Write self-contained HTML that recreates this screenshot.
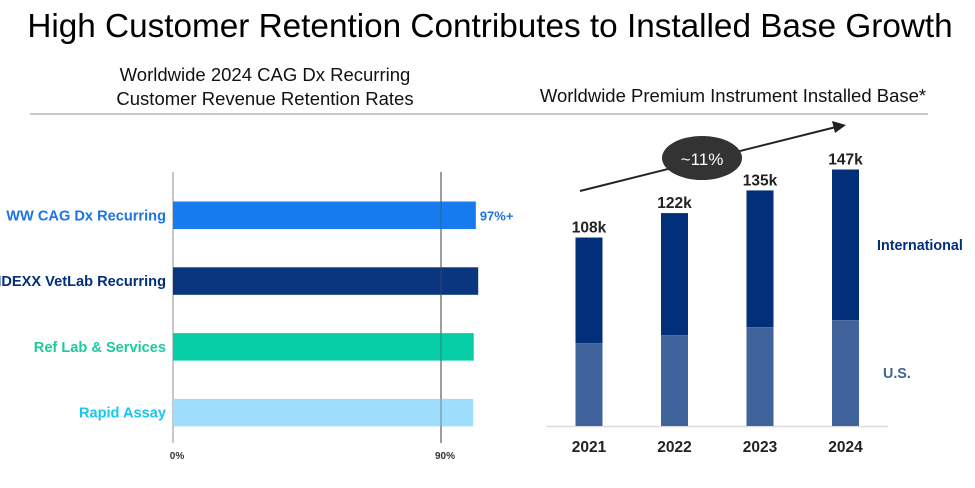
<!DOCTYPE html>
<html><head><meta charset="utf-8"><style>
body{margin:0;background:#fff;width:975px;height:483px;overflow:hidden;font-family:"Liberation Sans",Arial,sans-serif}
svg text{font-family:"Liberation Sans",Arial,sans-serif}
</style></head><body>
<svg id="s" width="975" height="483" viewBox="0 0 975 483">
<text x="490" y="37" text-anchor="middle" font-size="33.3" fill="#000">High Customer Retention Contributes to Installed Base Growth</text>
<text x="265" y="81" text-anchor="middle" font-size="18.5" fill="#111">Worldwide 2024 CAG Dx Recurring</text>
<text x="265" y="105" text-anchor="middle" font-size="18.5" fill="#111">Customer Revenue Retention Rates</text>
<text x="733" y="102" text-anchor="middle" font-size="18.5" fill="#111">Worldwide Premium Instrument Installed Base*</text>
<line x1="30" y1="114" x2="928" y2="114" stroke="#c8c8c8" stroke-width="2"/>
<g id="left"></g>
<g id="right"></g>
</svg>
<script>
const NS="http://www.w3.org/2000/svg";
function mk(tag,attrs,parent,txt){const e=document.createElementNS(NS,tag);for(const k in attrs)e.setAttribute(k,attrs[k]);if(txt!==undefined)e.textContent=txt;parent.appendChild(e);return e;}
// Left chart data
const retCategories=["WW CAG Dx Recurring","IDEXX VetLab Recurring","Ref Lab & Services","Rapid Assay"];
const retValues=[101.7,102.5,101.0,100.8];
const retColors=["#0d77ee","#012f7a","#00cca4","#9cdcfd"];
const retLabelColors=["#1a73e8","#012f7a","#1fc9a0","#18c6f0"];
const retTicks=[0,90];
const retValueLabels=["97%+","","",""];
// Right chart data
const years=["2021","2022","2023","2024"];
const usValues=[47.4,52,56.6,60.6];
const totalValues=[108,122,135,147];
const totalLabels=["108k","122k","135k","147k"];

const L=document.getElementById('left');
const xL=v=>173+v*(268/90);
const yBand=i=>201.5+i*65.8;
const bh=27.5;
retTicks.forEach(t=>{
  const ln=mk('line',{x1:xL(t),y1:172,x2:xL(t),y2:443,stroke:t===0?'#aaa':'#888','stroke-width':1.3},L);
  
  
  const tx=mk('text',{x:xL(t)+4,y:459,'text-anchor':'middle','font-size':10,'font-weight':'bold',fill:'#333'},L,t+'%');
  
  
});
retCategories.forEach((c,i)=>{
  const r=mk('rect',{x:xL(0),y:yBand(i),width:xL(retValues[i])-xL(0),height:bh,fill:retColors[i],'fill-opacity':0.97},L);
  
  
  const t=mk('text',{x:166,y:yBand(i)+bh/2+5,'text-anchor':'end','font-size':14.6,'font-weight':'bold',fill:retLabelColors[i]},L,c);
  
  
  if(retValueLabels[i]){
    const v=mk('text',{x:xL(retValues[i])+4,y:yBand(i)+bh/2+5,'font-size':13,'font-weight':'bold',fill:'#1a73e8'},L,retValueLabels[i]);
    
    
  }
});
const ov=mk('line',{x1:xL(90),y1:172,x2:xL(90),y2:443,stroke:'#555','stroke-opacity':0.5,'stroke-width':1.2},L);



const R=document.getElementById('right');
const y0=426, ks=1.745;
const yR=v=>y0-v*ks;
const xC=i=>589+i*85.5;
const bw=27;
const base=mk('line',{x1:546,y1:y0+0.5,x2:888,y2:y0+0.5,stroke:'#ddd','stroke-width':1.5},R);


years.forEach((yr,i)=>{
  const a=mk('rect',{x:xC(i)-bw/2,y:yR(totalValues[i]),width:bw,height:(totalValues[i]-usValues[i])*ks,fill:'#012f7a'},R);
  
  
  const b=mk('rect',{x:xC(i)-bw/2,y:yR(usValues[i]),width:bw,height:usValues[i]*ks,fill:'#41639c'},R);
  
  
  const t=mk('text',{x:xC(i),y:yR(totalValues[i])-5,'text-anchor':'middle','font-size':15.5,'font-weight':'bold',fill:'#222'},R,totalLabels[i]);
  
  
  const x=mk('text',{x:xC(i),y:452,'text-anchor':'middle','font-size':15.5,'font-weight':'bold',fill:'#222'},R,yr);
  
  
});
const ar=mk('line',{x1:580,y1:191,x2:836,y2:127,stroke:'#222','stroke-width':2},R);


const ah=mk('polygon',{points:'846,125 832,121 835,133',fill:'#222'},R);


const el=mk('ellipse',{cx:702,cy:158,rx:40,ry:22,fill:'#333'},R);


const et=mk('text',{x:702,y:165,'text-anchor':'middle','font-size':17,fill:'#fff'},R,'~11%');


const l1=mk('text',{x:877,y:250,'font-size':14.3,'font-weight':'bold',fill:'#012f7a'},R,'International');


const l2=mk('text',{x:883,y:378,'font-size':14.3,'font-weight':'bold',fill:'#41639c'},R,'U.S.');


</script>
</body></html>
